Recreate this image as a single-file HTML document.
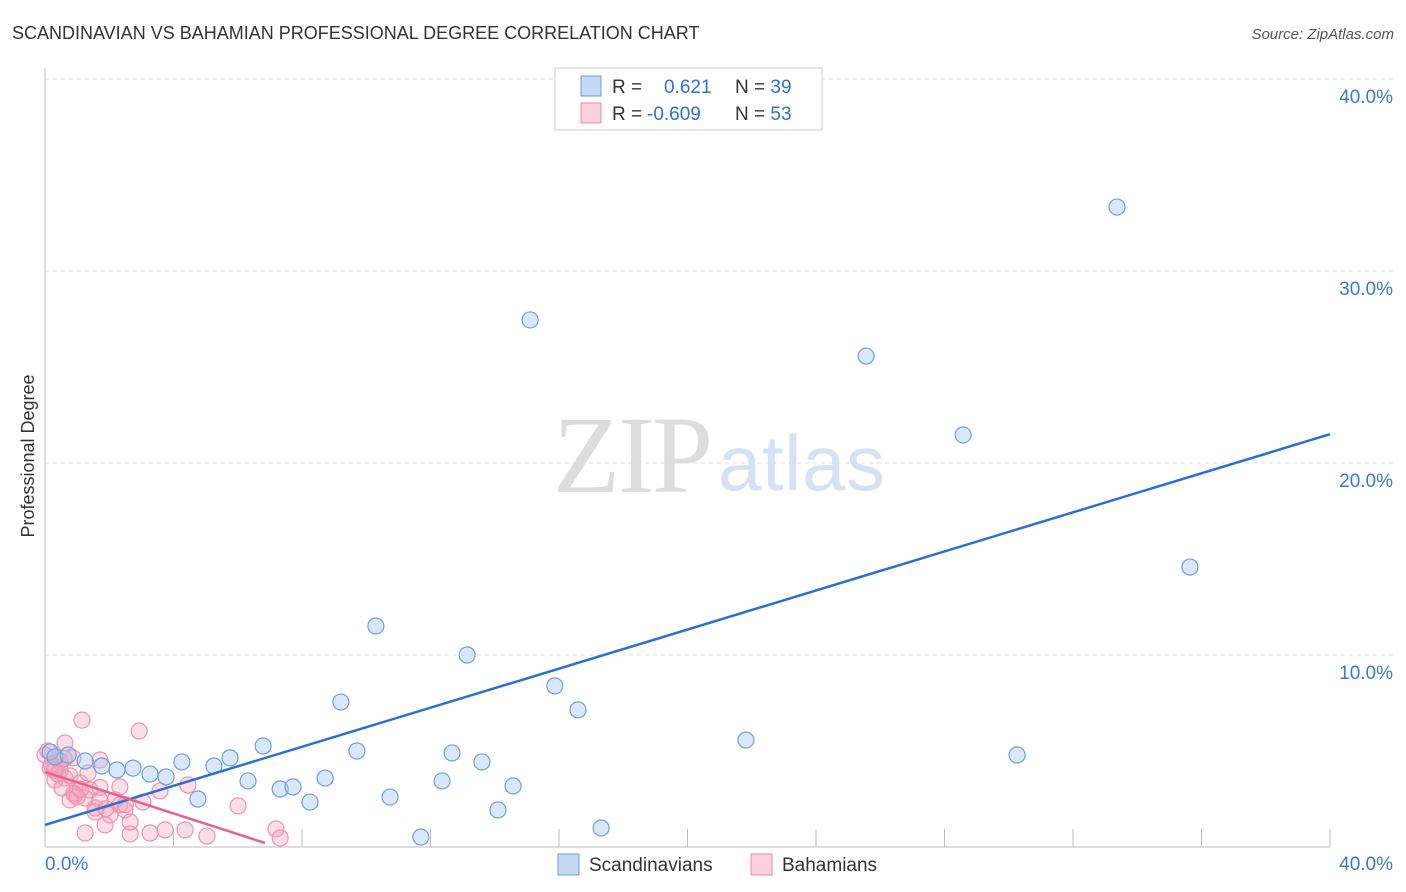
<!DOCTYPE html>
<html><head><meta charset="utf-8"><style>
body{margin:0;background:#fff;font-family:"Liberation Sans",sans-serif}
#wrap{position:relative;width:1406px;height:892px;overflow:hidden}
</style></head><body>
<div id="wrap">
<svg id="chart" width="1406" height="892">
<text x="12" y="39" font-size="18" fill="#333">SCANDINAVIAN VS BAHAMIAN PROFESSIONAL DEGREE CORRELATION CHART</text>
<text x="1394" y="39" font-size="15" fill="#555" font-style="italic" text-anchor="end">Source: ZipAtlas.com</text>
<text x="34" y="456" font-size="18" fill="#333" transform="rotate(-90 34 456)" text-anchor="middle">Professional Degree</text>
<text x="553" y="492" font-size="110" fill="#ddd" font-family="Liberation Serif,serif" textLength="160">ZIP</text>
<text x="718" y="490" font-size="78" fill="#d4e2f4" textLength="167">atlas</text>
<g id="grid"></g><g id="marks"></g>
<g>
<rect x="555" y="68" width="267" height="62" fill="#fff" stroke="#ccc"/>
<rect x="581" y="76" width="20" height="20" fill="#c5d9f3" stroke="#6a9be0"/>
<rect x="581" y="103" width="20" height="20" fill="#fbd0dc" stroke="#ec8aa6"/>
<text x="612" y="93" font-size="19" fill="#333">R = <tspan x="664" fill="#2f6fd6">0.621</tspan><tspan x="735" fill="#333">N = </tspan><tspan fill="#2f6fd6">39</tspan></text>
<text x="612" y="120" font-size="19" fill="#333">R = <tspan x="647" fill="#2f6fd6">-0.609</tspan><tspan x="735" fill="#333">N = </tspan><tspan fill="#2f6fd6">53</tspan></text>
</g>
<g>
<rect x="558" y="854" width="21" height="21" fill="#c5d9f3" stroke="#6a9be0"/>
<text x="589" y="871" font-size="19" fill="#333">Scandinavians</text>
<rect x="751" y="854" width="21" height="21" fill="#fbd0dc" stroke="#ec8aa6"/>
<text x="782" y="871" font-size="19" fill="#333">Bahamians</text>
</g>
</svg></div>
<script>
const yTicks=[10,20,30,40];
const xTickLabels=["0.0%","40.0%"];
const blueX=[0.16,0.31,0.72,1.25,1.77,2.24,2.74,3.27,3.77,4.26,4.76,5.26,5.76,6.32,6.79,7.32,7.72,8.25,8.72,9.21,9.71,10.3,10.74,11.7,12.36,12.67,13.14,13.6,14.1,14.57,15.1,15.87,16.59,17.31,21.82,25.56,28.58,30.26,33.37,35.64];
const blueY=[4.95,4.69,4.79,4.48,4.22,4.01,4.11,3.8,3.65,4.43,2.5,4.22,4.64,3.44,5.26,3.02,3.13,2.34,3.59,7.55,5.0,11.51,2.6,0.52,3.44,4.9,10.0,4.43,1.93,3.18,27.45,8.39,7.14,0.99,5.57,25.57,21.46,4.79,33.33,14.58];
const pinkX=[1.15,2.93,0.09,0.62,0.87,0.31,1.71,0.47,0.78,1.09,1.4,0.93,1.71,2.33,1.56,2.49,3.05,2.02,1.25,2.65,3.27,3.74,4.36,5.04,6.01,7.19,7.32,4.45,3.58,2.33,0.62,0.31,0.16,0.53,1.25,1.56,1.87,2.65,0.47,0.0,2.18,0.78,1.34,1.71,0.2,0.4,0.9,1.0,2.5,1.1,0.6,0.3,1.9];
const pinkY=[6.61,6.04,5.0,5.42,4.64,4.22,4.53,3.99,3.7,3.33,2.97,2.71,2.45,2.19,2.03,1.93,2.34,1.67,0.73,0.68,0.73,0.89,0.89,0.57,2.14,0.94,0.47,3.23,2.92,3.13,3.59,3.49,4.11,3.07,2.55,1.82,1.15,1.30,4.48,4.79,2.45,2.45,3.85,3.1,4.3,3.8,2.8,2.6,2.2,3.0,4.6,4.0,2.0];
const blueLine=[1.15,21.5];
const pinkLine=[3.91,0.21,6.85];
const ns="http://www.w3.org/2000/svg";
const X=v=>45+v*32.125, Y=v=>847-v*19.2;
const grid=document.getElementById('grid'), marks=document.getElementById('marks');
function mk(tag,attrs,parent){const e=document.createElementNS(ns,tag);for(const k in attrs)e.setAttribute(k,attrs[k]);parent.appendChild(e);return e;}
let ax=mk('line',{x1:45,y1:68,x2:45,y2:847,stroke:'#bbb'},grid);


let bx=mk('line',{x1:45,y1:847,x2:1330,y2:847,stroke:'#bbb'},grid);


yTicks.forEach(t=>{
 const g=mk('line',{x1:45,y1:Y(t),x2:1395,y2:Y(t),stroke:'#ddd','stroke-dasharray':'4,4'},grid);
 
 
 const l=mk('text',{x:1393,y:Y(t)+24,'font-size':19,fill:'#3a78d6','text-anchor':'end'},grid);
 l.textContent=t.toFixed(1)+'%';
 
 
});
for(let i=1;i<=10;i++){
 const t=mk('line',{x1:X(i*4),y1:829,x2:X(i*4),y2:847,stroke:'#bbb'},grid);
 
 
}
[[45,'start'],[1393,'end']].forEach((p,i)=>{
 const l=mk('text',{x:p[0],y:870,'font-size':19,fill:'#3a78d6','text-anchor':p[1]},grid);
 l.textContent=xTickLabels[i];
 
 
});
pinkX.forEach((v,i)=>{
 const c=mk('circle',{cx:X(v),cy:Y(pinkY[i]),r:8,fill:'rgba(245,160,185,0.35)',stroke:'#ee92ad','stroke-width':1.2},marks);
 
 
});
blueX.forEach((v,i)=>{
 const c=mk('circle',{cx:X(v),cy:Y(blueY[i]),r:8,fill:'rgba(160,195,240,0.4)',stroke:'#6f9fe2','stroke-width':1.2},marks);
 
 
});
const bl=mk('line',{x1:X(0),y1:Y(blueLine[0]),x2:X(40),y2:Y(blueLine[1]),stroke:'#2a6fd6','stroke-width':2.5},marks);


const pl=mk('line',{x1:X(0),y1:Y(pinkLine[0]),x2:X(pinkLine[2]),y2:Y(pinkLine[1]),stroke:'#e8628c','stroke-width':2.5},marks);


</script>
</body></html>
